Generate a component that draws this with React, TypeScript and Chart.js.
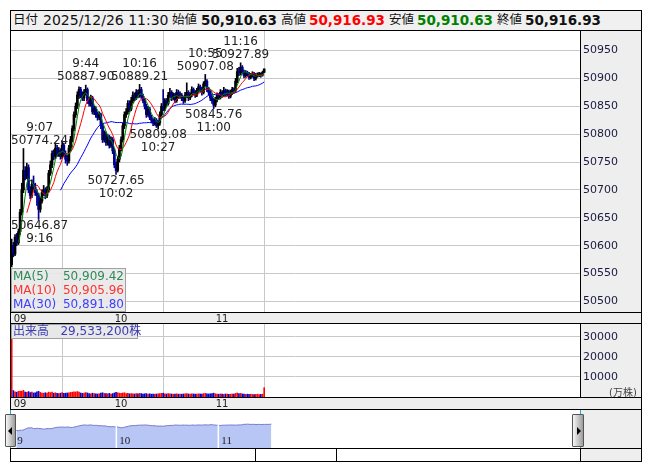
import React, { useEffect, useRef } from "react";
import { Chart, registerables } from "chart.js";
Chart.register(...registerables);

// ---- data ----
const hourTicks = [0, 60, 120];
const hourLabels = ["09", "10", "11"];
const navHourLabels = ["9", "10", "11"];
const priceTicks = [50500, 50550, 50600, 50650, 50700, 50750, 50800, 50850, 50900, 50950];
const volumeTicks = [10000, 20000, 30000];

const opens = [
  50566, 50600, 50585, 50615, 50605, 50625, 50660, 50700, 50735, 50725,
  50740, 50700, 50690, 50710, 50705, 50695, 50690, 50665, 50680, 50695,
  50700, 50690, 50700, 50730, 50745, 50765, 50760, 50775, 50765, 50770,
  50760, 50780, 50765, 50755, 50752, 50775, 50790, 50810, 50835, 50850,
  50870, 50880, 50870, 50865, 50875, 50880, 50860, 50855, 50865, 50840,
  50845, 50835, 50830, 50835, 50815, 50790, 50800, 50785, 50795, 50780,
  50790, 50770, 50745, 50735, 50755, 50775, 50790, 50815, 50835, 50840,
  50855, 50845, 50860, 50870, 50865, 50875, 50870, 50880, 50868, 50860,
  50850, 50835, 50845, 50830, 50825, 50820, 50825, 50815, 50820, 50835,
  50850, 50845, 50860, 50855, 50870, 50875, 50865, 50870, 50860, 50875,
  50868, 50870, 50865, 50860, 50870, 50875, 50865, 50870, 50880, 50875,
  50870, 50878, 50885, 50880, 50875, 50890, 50895, 50880, 50875, 50865,
  50860, 50852, 50862, 50870, 50866, 50875, 50870, 50878, 50872, 50876,
  50868, 50875, 50880, 50878, 50895, 50912, 50910, 50920, 50912, 50905,
  50910, 50908, 50902, 50905, 50908, 50900, 50905, 50905, 50908, 50906,
  50910.63,
];
const highs = [
  50612, 50606, 50620, 50622, 50630, 50665, 50712, 50774.24, 50742, 50748,
  50745, 50706, 50718, 50725, 50712, 50700, 50694, 50686, 50700, 50708,
  50704, 50706, 50735, 50752, 50770, 50772, 50784, 50780, 50776, 50774,
  50788, 50784, 50770, 50762, 50780, 50796, 50815, 50840, 50856, 50876,
  50885, 50884, 50876, 50880, 50887.9, 50883, 50866, 50870, 50868, 50850,
  50849, 50840, 50840, 50838, 50820, 50806, 50804, 50800, 50798, 50795,
  50794, 50774, 50750, 50760, 50780, 50795, 50820, 50840, 50846, 50860,
  50860, 50866, 50876, 50874, 50880, 50879, 50889.21, 50884, 50872, 50864,
  50854, 50850, 50848, 50834, 50828, 50830, 50828, 50824, 50840, 50855,
  50880, 50864, 50864, 50875, 50882, 50878, 50874, 50873, 50880, 50879,
  50876, 50873, 50868, 50875, 50892, 50878, 50874, 50885, 50883, 50878,
  50882, 50890, 50888, 50884, 50894, 50907.08, 50898, 50884, 50878, 50869,
  50864, 50866, 50874, 50873, 50880, 50878, 50884, 50881, 50880, 50879,
  50879, 50884, 50883, 50900, 50918, 50920, 50927.89, 50923, 50915, 50914,
  50913, 50911, 50909, 50912, 50911, 50909, 50910, 50911, 50910, 50913,
  50916.93,
];
const lows = [
  50562, 50580, 50582, 50600, 50602, 50620, 50655, 50695, 50718, 50720,
  50695, 50684, 50686, 50700, 50690, 50672, 50646.87, 50660, 50676, 50690,
  50684, 50686, 50696, 50726, 50740, 50754, 50756, 50760, 50760, 50755,
  50756, 50760, 50748, 50744, 50748, 50770, 50786, 50806, 50830, 50846,
  50864, 50865, 50860, 50860, 50870, 50855, 50850, 50850, 50836, 50835,
  50830, 50825, 50826, 50810, 50785, 50786, 50780, 50780, 50775, 50776,
  50765, 50740, 50727.65, 50732, 50750, 50770, 50786, 50810, 50830, 50836,
  50840, 50842, 50856, 50860, 50862, 50865, 50866, 50864, 50856, 50845,
  50830, 50832, 50826, 50820, 50815, 50816, 50812, 50809.08, 50816, 50832,
  50842, 50842, 50850, 50852, 50866, 50860, 50862, 50856, 50857, 50864,
  50864, 50860, 50855, 50857, 50866, 50860, 50862, 50867, 50871, 50866,
  50867, 50875, 50876, 50870, 50872, 50886, 50876, 50870, 50860, 50855,
  50845.76, 50849, 50858, 50862, 50863, 50866, 50867, 50868, 50869, 50864,
  50865, 50871, 50873, 50875, 50892, 50905, 50906, 50908, 50901, 50902,
  50904, 50898, 50899, 50902, 50896, 50897, 50902, 50903, 50902, 50904,
  50910.63,
];
const closes = [
  50600, 50585, 50615, 50605, 50625, 50660, 50700, 50735, 50725, 50740,
  50700, 50690, 50710, 50705, 50695, 50690, 50665, 50680, 50695, 50700,
  50690, 50700, 50730, 50745, 50765, 50760, 50775, 50765, 50770, 50760,
  50780, 50765, 50755, 50752, 50775, 50790, 50810, 50835, 50850, 50870,
  50880, 50870, 50865, 50875, 50880, 50860, 50855, 50865, 50840, 50845,
  50835, 50830, 50835, 50815, 50790, 50800, 50785, 50795, 50780, 50790,
  50770, 50745, 50735, 50755, 50775, 50790, 50815, 50835, 50840, 50855,
  50845, 50860, 50870, 50865, 50875, 50870, 50880, 50868, 50860, 50850,
  50835, 50845, 50830, 50825, 50820, 50825, 50815, 50820, 50835, 50850,
  50845, 50860, 50855, 50870, 50875, 50865, 50870, 50860, 50875, 50868,
  50870, 50865, 50860, 50870, 50875, 50865, 50870, 50880, 50875, 50870,
  50878, 50885, 50880, 50875, 50890, 50895, 50880, 50875, 50865, 50860,
  50852, 50862, 50870, 50866, 50875, 50870, 50878, 50872, 50876, 50868,
  50875, 50880, 50878, 50895, 50912, 50910, 50920, 50912, 50905, 50910,
  50908, 50902, 50905, 50908, 50900, 50905, 50905, 50908, 50906, 50910.63,
  50916.93,
];
const volumes = [
  40000, 3200, 2600, 2400, 2800, 3000, 2900, 3300, 2500, 2300,
  2700, 2200, 2400, 2000, 2100, 2600, 2800, 2300, 2000, 1900,
  2100, 2000, 2400, 2200, 2500, 1900, 2100, 1800, 1700, 1900,
  2200, 1800, 1900, 2000, 2100, 2300, 2400, 2600, 2500, 2700,
  2400, 2000, 1800, 1900, 2200, 2000, 1700, 1600, 1900, 1700,
  1600, 1500, 1600, 1900, 2100, 1800, 1700, 1600, 1800, 1500,
  1700, 2000, 2300, 2100, 1900, 1800, 2000, 2100, 1700, 1800,
  1600, 1700, 1600, 1500, 1700, 1600, 1800, 1700, 1500, 1600,
  1700, 1500, 1600, 1400, 1500, 1400, 1500, 1600, 1700, 1800,
  1900, 1600, 1500, 1700, 1600, 1500, 1400, 1500, 1600, 1400,
  1500, 1400, 1500, 1600, 1700, 1500, 1400, 1600, 1500, 1400,
  1500, 1600, 1500, 1400, 1700, 1800, 1600, 1500, 1600, 1700,
  1900, 1600, 1500, 1400, 1500, 1400, 1300, 1500, 1400, 1300,
  1400, 1500, 1400, 1800, 2000, 1700, 1800, 1500, 1400, 1300,
  1400, 1300, 1400, 1300, 1200, 1300, 1400, 1200, 1300, 1400,
  4600,
];

const pivotMinutes = [7, 16, 44, 62, 76, 87, 115, 120, 136];
const pivotPrices = [50774.24, 50646.87, 50887.9, 50727.65, 50889.21, 50809.08, 50907.08, 50845.76, 50927.89];
const pivotTimes = ["9:07", "9:16", "9:44", "10:02", "10:16", "10:27", "10:55", "11:00", "11:16"];
const pivotKinds = ["high", "low", "high", "low", "high", "low", "high", "low", "high"];

const maPeriods = [5, 10, 30];
const maLegendValues = ["50,909.42", "50,905.96", "50,891.80"];

const headerDate = "2025/12/26 11:30";
const headerOpen = "50,910.63";
const headerHigh = "50,916.93";
const headerLow = "50,910.63";
const headerClose = "50,916.93";
const volumeTotal = "29,533,200株";

// ---- styles ----
const UP = "#000000";
const DOWN = "#000090";
const VOL_UP = "#ff0000";
const VOL_DOWN = "#0000cc";
const MA_LINE_COLORS = ["#008000", "#ff0000", "#0000ff"];
const MA_TEXT_COLORS = ["#2e8b57", "#ff3333", "#4040ff"];
const GRID = "#c8c8c8";
const PANEL = "#eeeeee";
const FONT = "'DejaVu Sans', 'Noto Sans CJK JP', sans-serif";

function movingAverage(values: number[], n: number) {
  const out: { x: number; y: number }[] = [];
  for (let i = n - 1; i < values.length; i++) {
    let s = 0;
    for (let k = i - n + 1; k <= i; k++) s += values[k];
    out.push({ x: i, y: s / n });
  }
  return out;
}

const framePlugin = {
  id: "frame",
  beforeDraw(chart: any) {
    const { ctx, chartArea: a, width, height } = chart;
    ctx.save();
    ctx.fillStyle = PANEL;
    ctx.fillRect(0, 0, width, height);
    ctx.fillStyle = "#ffffff";
    ctx.fillRect(a.left, a.top, a.right - a.left, a.bottom - a.top);
    ctx.restore();
  },
  afterDraw(chart: any) {
    const { ctx, chartArea: a, width, height } = chart;
    const drawTop = chart.options.plugins.frame?.top;
    ctx.save();
    ctx.strokeStyle = "#000";
    ctx.lineWidth = 1;
    ctx.beginPath();
    if (drawTop) {
      ctx.moveTo(0, 0.5);
      ctx.lineTo(width, 0.5);
    }
    ctx.moveTo(0.5, 0);
    ctx.lineTo(0.5, height);
    ctx.moveTo(width - 0.5, 0);
    ctx.lineTo(width - 0.5, height);
    ctx.moveTo(a.right + 0.5, 0);
    ctx.lineTo(a.right + 0.5, a.bottom);
    ctx.moveTo(0, a.bottom + 0.5);
    ctx.lineTo(width, a.bottom + 0.5);
    ctx.moveTo(0, height - 0.5);
    ctx.lineTo(width, height - 0.5);
    ctx.stroke();
    ctx.restore();
  },
};

const pivotPlugin = {
  id: "pivots",
  afterDatasetsDraw(chart: any) {
    const { ctx, chartArea: a } = chart;
    const xs = chart.scales.x;
    const ys = chart.scales.y;
    ctx.save();
    ctx.font = "12px 'DejaVu Sans'";
    ctx.fillStyle = "#222";
    ctx.textAlign = "center";
    ctx.textBaseline = "middle";
    pivotMinutes.forEach((m, i) => {
      const px = xs.getPixelForValue(m);
      const py = ys.getPixelForValue(pivotPrices[i]);
      const priceText = pivotPrices[i].toFixed(2);
      const w = ctx.measureText(priceText).width;
      let cx = px;
      if (cx - w / 2 < a.left) cx = a.left + w / 2;
      if (cx + w / 2 > a.right) cx = a.right - w / 2;
      if (pivotKinds[i] === "high") {
        ctx.fillText(priceText, cx, py - 8);
        ctx.fillText(pivotTimes[i], cx, py - 21);
      } else {
        ctx.fillText(priceText, cx, py + 6);
        ctx.fillText(pivotTimes[i], cx, py + 19);
      }
    });
    ctx.restore();
  },
};

const navPlugin = {
  id: "navmarks",
  afterDatasetsDraw(chart: any) {
    const { ctx, chartArea: a } = chart;
    const xs = chart.scales.x;
    ctx.save();
    ctx.strokeStyle = "#ffffff";
    ctx.lineWidth = 1.5;
    hourTicks.slice(1).forEach((m) => {
      const x = xs.getPixelForValue(m) - 2;
      ctx.beginPath();
      ctx.moveTo(x, a.top);
      ctx.lineTo(x, a.bottom);
      ctx.stroke();
    });
    ctx.fillStyle = "#222";
    ctx.font = "11px 'Liberation Serif', serif";
    ctx.textBaseline = "middle";
    ctx.textAlign = "left";
    hourTicks.forEach((m, i) => {
      ctx.fillText(navHourLabels[i], xs.getPixelForValue(m) + 1, a.bottom - 7);
    });
    ctx.restore();
  },
};

const noPad = (s: any) => {
  s.paddingTop = 0;
  s.paddingBottom = 0;
  s.paddingLeft = 0;
  s.paddingRight = 0;
};

const xAxisCommon = (height: number) => ({
  type: "linear" as const,
  min: -0.4,
  max: 337.6,
  offset: false,
  afterBuildTicks: (s: any) => {
    s.ticks = hourTicks.map((v) => ({ value: v }));
  },
  afterFit: (s: any) => {
    s.height = height;
    noPad(s);
  },
  grid: { color: GRID, drawTicks: false, lineWidth: 1 },
  border: { display: false },
  ticks: {
    callback: (_v: any, i: number) => hourLabels[i],
    align: "start" as const,
    labelOffset: 2,
    padding: 1,
    autoSkip: false,
    maxRotation: 0,
    font: { family: "DejaVu Sans", size: 10 },
    color: "#222",
  },
});

const yAxisCommon = (min: number, max: number, ticks: number[]) => ({
  position: "right" as const,
  min,
  max,
  afterBuildTicks: (s: any) => {
    s.ticks = ticks.map((v) => ({ value: v }));
  },
  afterFit: (s: any) => {
    s.width = 62;
    noPad(s);
  },
  grid: { color: GRID, drawTicks: false },
  border: { display: false },
  ticks: {
    padding: 3,
    font: { family: "DejaVu Sans", size: 11 },
    color: "#1a1a40",
    callback: (v: any) => String(v),
  },
});

export default function App() {
  const mainRef = useRef<HTMLCanvasElement>(null);
  const volRef = useRef<HTMLCanvasElement>(null);
  const navRef = useRef<HTMLCanvasElement>(null);

  useEffect(() => {
    const idx = closes.map((_, i) => i);
    const candleColors = idx.map((i) => (closes[i] >= opens[i] ? UP : DOWN));
    const volColors = idx.map((i) => (closes[i] >= opens[i] ? VOL_UP : VOL_DOWN));

    const main = new Chart(mainRef.current!, {
      type: "bar",
      data: {
        datasets: [
          ...maPeriods.map((p, k) => ({
            type: "line" as const,
            data: movingAverage(closes, p),
            borderColor: MA_LINE_COLORS[k],
            borderWidth: 1,
            pointRadius: 0,
            tension: 0,
            order: k,
          })),
          {
            type: "bar" as const,
            data: idx.map((i) => ({ x: i, y: [opens[i], closes[i]] })) as any,
            backgroundColor: candleColors,
            barThickness: 2,
            grouped: false,
            order: 10,
          },
          {
            type: "bar" as const,
            data: idx.map((i) => ({ x: i, y: [lows[i], highs[i]] })) as any,
            backgroundColor: candleColors,
            barThickness: 1,
            grouped: false,
            order: 11,
          },
        ],
      },
      options: {
        animation: false,
        responsive: false,
        events: [],
        layout: { padding: { left: 1, top: 1, right: 0, bottom: 1 } },
        plugins: { legend: { display: false }, tooltip: { enabled: false }, frame: { top: true } } as any,
        scales: {
          x: xAxisCommon(11) as any,
          y: yAxisCommon(50481, 50985, priceTicks) as any,
        },
      },
      plugins: [framePlugin, pivotPlugin],
    });

    const vol = new Chart(volRef.current!, {
      type: "bar",
      data: {
        datasets: [
          {
            data: idx.map((i) => ({ x: i, y: volumes[i] })) as any,
            backgroundColor: volColors,
            barThickness: 1,
            grouped: false,
          },
        ],
      },
      options: {
        animation: false,
        responsive: false,
        events: [],
        layout: { padding: { left: 1, top: 0, right: 0, bottom: 1 } },
        plugins: { legend: { display: false }, tooltip: { enabled: false } },
        scales: {
          x: xAxisCommon(12) as any,
          y: yAxisCommon(0, 36300, volumeTicks) as any,
        },
      },
      plugins: [framePlugin],
    });

    const nav = new Chart(navRef.current!, {
      type: "line",
      data: {
        datasets: [
          {
            data: idx.map((i) => ({ x: i, y: closes[i] })),
            borderColor: "#7878c8",
            borderWidth: 1,
            backgroundColor: "#b8c6f5",
            fill: "start",
            pointRadius: 0,
            tension: 0,
          },
        ],
      },
      options: {
        animation: false,
        responsive: false,
        events: [],
        layout: { padding: 0 },
        plugins: { legend: { display: false }, tooltip: { enabled: false } },
        scales: {
          x: { type: "linear", min: -0.8, max: 327.5, display: false },
          y: { min: 49720, max: 51530, display: false },
        },
      },
      plugins: [navPlugin],
    });

    return () => {
      main.destroy();
      vol.destroy();
      nav.destroy();
    };
  }, []);

  const abs = (left: number, top: number, extra: any = {}) => ({
    position: "absolute" as const,
    left,
    top,
    ...extra,
  });

  const headerText = (left: number, text: string, style: any = {}) => (
    <span
      style={abs(left, 12, {
        height: 16,
        lineHeight: "16px",
        whiteSpace: "nowrap",
        fontFamily: FONT,
        ...style,
      })}
    >
      {text}
    </span>
  );

  const label = { fontSize: 12.5, color: "#111" };
  const bold = { fontSize: 13.5, fontWeight: "bold", color: "#111" };

  return (
    <div
      style={{
        position: "fixed",
        left: 0,
        top: 0,
        width: 653,
        height: 470,
        background: "#ffffff",
        overflow: "hidden",
        fontFamily: FONT,
      }}
    >
      {/* header */}
      <div
        style={abs(10, 10, {
          width: 632,
          height: 21,
          boxSizing: "border-box",
          border: "1px solid #000",
          background: "#f0f0f0",
        })}
      />
      {headerText(13, "日付", label)}
      {headerText(43, headerDate, { fontSize: 14, color: "#111" })}
      {headerText(172, "始値", label)}
      {headerText(201, headerOpen, bold)}
      {headerText(281, "高値", label)}
      {headerText(309, headerHigh, { ...bold, color: "#ff0000" })}
      {headerText(389, "安値", label)}
      {headerText(417, headerLow, { ...bold, color: "#008000" })}
      {headerText(497, "終値", label)}
      {headerText(525, headerClose, bold)}

      <canvas ref={mainRef} width={632} height={294} style={abs(10, 30, { width: 632, height: 294, display: "block" })} />
      <canvas ref={volRef} width={632} height={86} style={abs(10, 324, { width: 632, height: 86, display: "block" })} />

      {/* MA legend */}
      <div
        style={abs(11, 268, {
          width: 115,
          height: 44,
          boxSizing: "border-box",
          border: "1px solid #a0a0a0",
          background: "rgba(232,232,232,0.9)",
          fontFamily: FONT,
          fontSize: 12,
          padding: "0 1px",
        })}
      >
        {maPeriods.map((p, k) => (
          <div
            key={p}
            style={{
              display: "flex",
              justifyContent: "space-between",
              height: 14,
              lineHeight: "14px",
              color: MA_TEXT_COLORS[k],
            }}
          >
            <span>MA({p})</span>
            <span>{maLegendValues[k]}</span>
          </div>
        ))}
      </div>

      {/* volume label */}
      <div
        style={abs(11, 324, {
          width: 127,
          height: 15,
          boxSizing: "border-box",
          border: "1px solid #a0a0a0",
          background: "#e8e8e8",
          fontFamily: FONT,
          fontSize: 12,
          lineHeight: "13px",
          color: "#3c3cb4",
          whiteSpace: "nowrap",
          paddingLeft: 1,
        })}
      >
        出来高&nbsp;&nbsp;&nbsp;{volumeTotal}
      </div>
      <div style={abs(609, 384, { fontSize: 10, color: "#444", fontFamily: FONT, whiteSpace: "nowrap" })}>(万株)</div>

      {/* navigator */}
      <div
        style={abs(10, 410, {
          width: 632,
          height: 39,
          boxSizing: "border-box",
          borderLeft: "1px solid #000",
          borderRight: "1px solid #000",
          borderBottom: "1px solid #000",
          background: "#ffffff",
        })}
      />
      <div style={abs(581, 410, { width: 60, height: 51, background: PANEL })} />
      <canvas ref={navRef} width={558} height={36} style={abs(15, 412, { width: 558, height: 36, display: "block" })} />
      <div style={abs(10, 410, { width: 1, height: 4, background: "#19a7d8" })} />
      <div style={abs(10, 444, { width: 1, height: 4, background: "#19a7d8" })} />
      <div style={abs(580, 410, { width: 1, height: 4, background: "#19a7d8" })} />
      <div style={abs(580, 444, { width: 1, height: 4, background: "#19a7d8" })} />

      {/* scroll buttons */}
      <div
        style={abs(5, 414, {
          width: 11,
          height: 33,
          boxSizing: "border-box",
          border: "1px solid #555",
          borderRadius: 1,
          background: "linear-gradient(to right, #f6f6f6, #9c9c9c)",
        })}
      >
        <div
          style={{
            position: "absolute",
            left: 2,
            top: 12,
            width: 0,
            height: 0,
            borderTop: "4px solid transparent",
            borderBottom: "4px solid transparent",
            borderRight: "4px solid #000",
          }}
        />
      </div>
      <div
        style={abs(572, 414, {
          width: 12,
          height: 33,
          boxSizing: "border-box",
          border: "1px solid #555",
          borderRadius: 1,
          background: "linear-gradient(to right, #f6f6f6, #9c9c9c)",
        })}
      >
        <div
          style={{
            position: "absolute",
            left: 4,
            top: 12,
            width: 0,
            height: 0,
            borderTop: "4px solid transparent",
            borderBottom: "4px solid transparent",
            borderLeft: "4px solid #000",
          }}
        />
      </div>

      {/* bottom strip */}
      <div
        style={abs(10, 448, {
          width: 632,
          height: 14,
          boxSizing: "border-box",
          border: "1px solid #000",
          background: "#ffffff",
        })}
      />
      <div style={abs(581, 449, { width: 60, height: 12, background: PANEL })} />
      <div style={abs(255, 448, { width: 1, height: 14, background: "#000" })} />
      <div style={abs(336, 448, { width: 1, height: 14, background: "#000" })} />
      <div style={abs(580, 448, { width: 1, height: 14, background: "#000" })} />
    </div>
  );
}
